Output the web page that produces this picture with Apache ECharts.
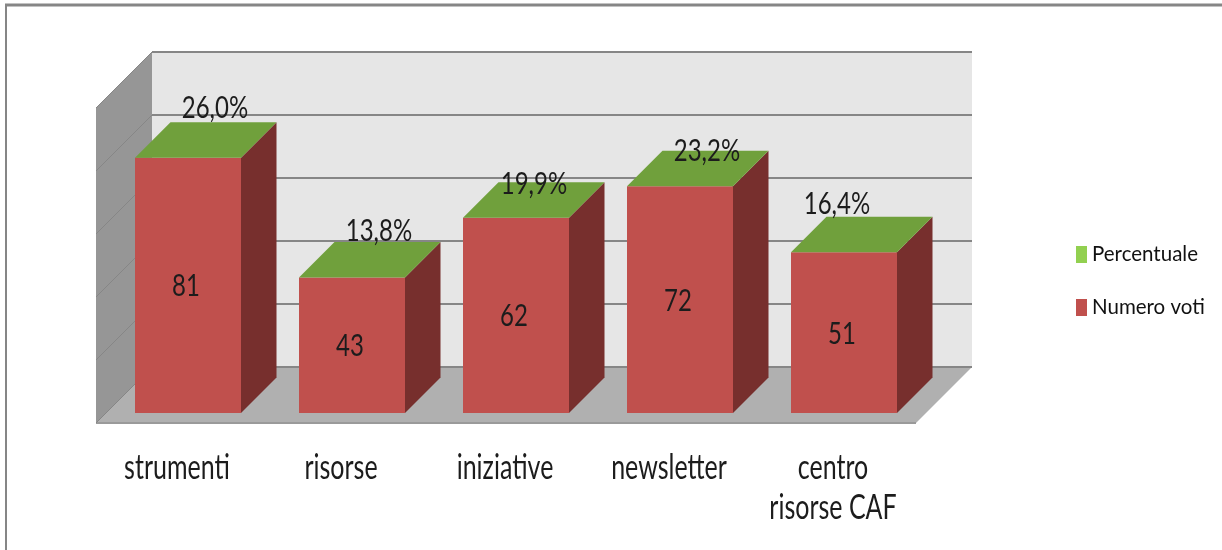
<!DOCTYPE html>
<html><head><meta charset="utf-8">
<style>html,body{margin:0;padding:0;background:#fff}#c{width:1222px;height:550px}</style>
<script src="https://cdn.jsdelivr.net/npm/echarts@6/dist/echarts.min.js"></script>
</head><body><div id="c"></div>
<script>
var categories = ['strumenti', 'risorse', 'iniziative', 'newsletter', 'centro\nrisorse CAF'];
var numeroVoti = [81, 43, 62, 72, 51];
var percentuale = [26.0, 13.8, 19.9, 23.2, 16.4];
var valueTicks = [0, 20, 40, 60, 80, 100];

// Layout of the pseudo-3D box (pixels)
var WALL_DEPTH = 56, BAR_INSET = 10, BAR_DEPTH = 35.5, BAR_WIDTH = 106;
var FONT = 'Lato,"Open Sans",sans-serif';
// Hand-placed offsets of the percentage labels in the reference: [dx, dy] from the top face's back edge centre
var pctNudge = [[27, -14], [27, -11], [18, 2], [27, 0], [-7, -13]];

var chart = echarts.init(document.getElementById('c'), null, {renderer: 'canvas'});

function poly(points, fill) {
  return {type: 'polygon', shape: {points: points}, style: {fill: fill}, silent: true};
}
function line(x1, y1, x2, y2, stroke, w) {
  return {type: 'line', shape: {x1: x1, y1: y1, x2: x2, y2: y2}, style: {stroke: stroke, lineWidth: w}, silent: true};
}
// The reference's text is stretched vertically, so labels carry a scaleY
function stretchedText(x, y, text, size, stretch, va, lh) {
  return {type: 'text', silent: true, x: x, y: y, scaleY: stretch,
    style: {x: 0, y: 0, text: text, align: 'center', verticalAlign: va, lineHeight: lh,
      fontFamily: FONT, fontSize: size, fill: '#1c1c1c'}};
}
function barFrame(api) {
  var i = api.value(0), p = api.coord([i, api.value(1)]), o = api.coord([i, 0]);
  var l = p[0] + BAR_INSET - BAR_WIDTH / 2;
  return {l: l, r: l + BAR_WIDTH, t: p[1] - BAR_INSET, b: o[1] - BAR_INSET};
}

function renderBox(params, api) {
  var cs = params.coordSys, d = WALL_DEPTH;
  var L = cs.x, R = cs.x + cs.width, T = cs.y, B = cs.y + cs.height;
  return {type: 'group', children: [
    poly([[L + d, T - d], [R + d, T - d], [R + d, B - d], [L + d, B - d]], '#E6E6E6'),
    poly([[L, T], [L + d, T - d], [L + d, B - d], [L, B]], '#969696'),
    poly([[L, B], [L + d, B - d], [R + d, B - d], [R, B]], '#B0B0B0'),
    line(L, B, R, B, '#9A9A9A', 2)
  ]};
}
function renderTick(params, api) {
  var cs = params.coordSys, d = WALL_DEPTH;
  var y = api.coord([0, api.value(0)])[1];
  var L = cs.x, R = cs.x + cs.width;
  return {type: 'group', children: [
    line(L, y, L + d, y - d, '#868686', 1),
    line(L + d, y - d, R + d, y - d, '#868686', 2)
  ]};
}
function renderVotes(params, api) {
  var f = barFrame(api), c = BAR_DEPTH;
  return {type: 'group', children: [
    poly([[f.l, f.t], [f.r, f.t], [f.r, f.b], [f.l, f.b]], api.visual('color')),
    poly([[f.r, f.t], [f.r + c, f.t - c], [f.r + c, f.b - c], [f.r, f.b]], '#772F2D'),
    stretchedText((f.l + f.r) / 2 - 2, (f.t + f.b) / 2 + 1, String(api.value(1)), 24, 1.28, 'middle')
  ]};
}
function renderPercent(params, api) {
  var f = barFrame(api), c = BAR_DEPTH, n = pctNudge[params.dataIndex];
  return {type: 'group', children: [
    poly([[f.l, f.t], [f.l + c, f.t - c], [f.r + c, f.t - c], [f.r, f.t]], '#70A03C'),
    stretchedText((f.l + f.r) / 2 + n[0], f.t - c + n[1],
      api.value(2).toFixed(1).replace('.', ',') + '%', 24, 1.28, 'middle')
  ]};
}
function renderCategory(params, api) {
  var p = api.coord([api.value(0), 0]);
  return stretchedText(p[0] - 1, p[1] + 25, categories[params.dataIndex], 25, 1.4, 'top', 28.5);
}

chart.setOption({
  animation: false,
  backgroundColor: '#fff',
  grid: {left: 96, width: 820, top: 108, height: 315},
  xAxis: {
    type: 'category', data: categories,
    axisLine: {show: false}, axisTick: {show: false}, splitLine: {show: false}, axisLabel: {show: false}
  },
  yAxis: {
    type: 'value', min: 0, max: 100, interval: 20,
    axisLine: {show: false}, axisTick: {show: false}, axisLabel: {show: false}, splitLine: {show: false}
  },
  legend: {
    data: ['Percentuale', 'Numero voti'], orient: 'vertical', left: 1076, top: 244, padding: 0,
    itemWidth: 11, itemHeight: 17, itemGap: 32, icon: 'rect', selectedMode: false,
    textStyle: {fontFamily: FONT, fontSize: 20.5, color: '#111'}
  },
  graphic: [
    {type: 'line', shape: {x1: 5, y1: 5, x2: 1222, y2: 5}, style: {stroke: '#868686', lineWidth: 3}, silent: true},
    {type: 'line', shape: {x1: 6, y1: 5, x2: 6, y2: 550}, style: {stroke: '#868686', lineWidth: 2}, silent: true}
  ],
  series: [
    {name: 'box', type: 'custom', renderItem: renderBox, data: [0], silent: true, z: 1, clip: false},
    {name: 'griglia', type: 'custom', renderItem: renderTick, data: valueTicks.map(function (v) { return [v]; }),
      encode: {y: 0}, silent: true, z: 2, clip: false},
    {name: 'Numero voti', type: 'custom', renderItem: renderVotes, itemStyle: {color: '#C0504D'},
      data: numeroVoti.map(function (v, i) { return [i, v]; }), encode: {x: 0, y: 1}, z: 3, clip: false},
    {name: 'Percentuale', type: 'custom', renderItem: renderPercent, itemStyle: {color: '#92D050'},
      data: numeroVoti.map(function (v, i) { return [i, v, percentuale[i]]; }), encode: {x: 0, y: 1}, z: 4, clip: false},
    {name: 'categorie', type: 'custom', renderItem: renderCategory, silent: true, z: 5, clip: false,
      data: categories.map(function (c, i) { return [i]; }), encode: {x: 0}}
  ]
});
</script></body></html>
